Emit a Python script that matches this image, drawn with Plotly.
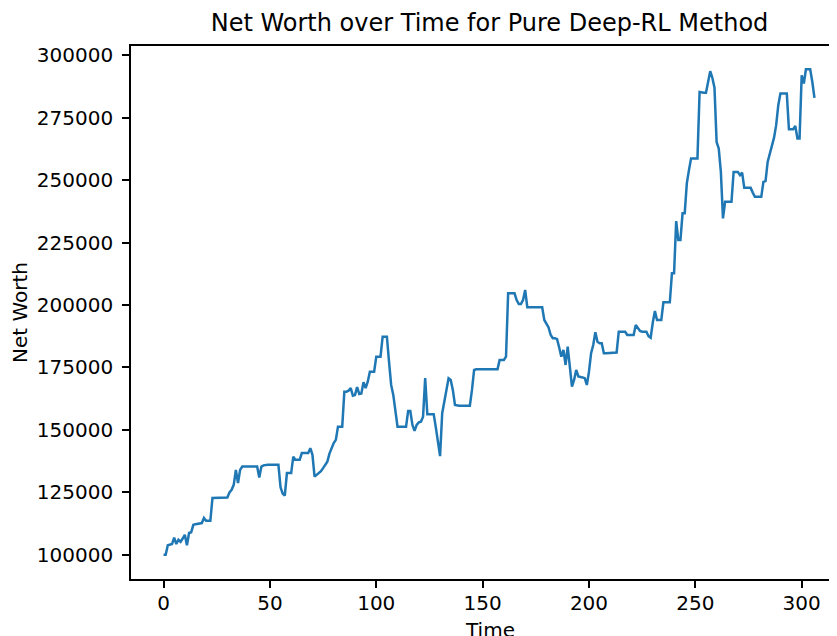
import plotly.graph_objects as go

# ---- data ----
time_steps = list(range(307))
net_worth = [
    100000, 100000, 103800, 104000, 104300, 106900, 104300, 106000, 105200, 106500,
    108000, 103800, 108700, 109000, 112000, 112200, 112400, 112700, 112700, 114700,
    113600, 113600, 113600, 122700, 122700, 122700, 122700, 122700, 122700, 122700,
    122900, 125000, 126000, 128000, 134000, 128700, 134000, 135300, 135300, 135300,
    135300, 135300, 135300, 135300, 135300, 130900, 135300, 135800, 136000, 136000,
    136000, 136000, 136000, 136000, 136000, 127000, 124500, 123700, 132700, 132700,
    132700, 139300, 138000, 138000, 138000, 140700, 140700, 140700, 140700, 142700,
    140000, 131300, 132000, 132700, 133500, 134700, 136000, 137300, 140500, 142700,
    144700, 146000, 151300, 151300, 151300, 165300, 165300, 165700, 166700, 163700,
    164000, 167100, 164400, 164600, 169100, 166700, 169300, 173300, 173300, 173300,
    179300, 179300, 179300, 187300, 187300, 187300, 177300, 168000, 164000, 157000,
    151300, 151300, 151300, 151300, 151300, 157600, 157600, 152000, 149600, 152000,
    153000, 153300, 155300, 170700, 156300, 156300, 156300, 156300, 151000, 146000,
    139500, 156700, 162000, 166700, 170700, 170000, 166000, 160000, 159700, 159700,
    159700, 159700, 159700, 159700, 159700, 166000, 174000, 174300, 174300, 174300,
    174300, 174300, 174300, 174300, 174300, 174300, 174300, 174300, 178000, 178000,
    178000, 179300, 204700, 204700, 204700, 204700, 202000, 200400, 200400, 202000,
    206000, 199100, 199100, 199100, 199100, 199100, 199100, 199100, 199100, 194000,
    192700, 191000, 188000, 186700, 186700, 186300, 183000, 179300, 182000, 176000,
    183300, 174000, 167300, 170000, 174000, 171400, 171300, 171000, 170700, 168000,
    173300, 180700, 184000, 189100, 185300, 184700, 184700, 180700, 180700, 180700,
    180700, 180700, 180700, 181000, 189300, 189300, 189300, 189300, 188000, 188000,
    188000, 188000, 192000, 190500, 189600, 189300, 189300, 189300, 187500, 186900,
    193000, 197600, 194000, 194000, 194000, 201100, 201100, 201100, 201100, 212700,
    212700, 233600, 226000, 226000, 236700, 236700, 248700, 254000, 258700, 258700,
    258700, 258700, 285300, 285000, 285000, 285000, 289300, 293600, 291000, 287000,
    265300, 262700, 253300, 234700, 241300, 241300, 241300, 241300, 253300, 253300,
    253300, 252000, 253000, 246900, 246900, 246900, 246900, 245000, 243300, 243300,
    243300, 243300, 249300, 249600, 257300, 260700, 263000, 267000, 272000, 280000,
    284700, 284700, 284700, 284700, 270400, 270400, 270400, 271700, 266700, 266700,
    292000, 288700, 294400, 294400, 294400, 289300, 282900,
]
x_ticks = [0, 50, 100, 150, 200, 250, 300]
y_ticks = [100000, 125000, 150000, 175000, 200000, 225000, 250000, 275000, 300000]

title_text = "Net Worth over Time for Pure Deep-RL Method"
x_label = "Time"
y_label = "Net Worth"

FONT = "DejaVu Sans"

fig = go.Figure()
fig.add_trace(go.Scatter(
    x=time_steps, y=net_worth, mode="lines",
    line=dict(color="#1f77b4", width=2.5),
    showlegend=False,
))

# the page body adds an 8px offset; the figure is sized to fill the rest of the window
fig.update_layout(
    width=829, height=628,
    margin=dict(l=123, r=0, t=38, b=57),
    paper_bgcolor="white", plot_bgcolor="white",
    font=dict(family=FONT, size=20, color="black"),
    title=dict(text=title_text, font=dict(family=FONT, size=24, color="black"),
               x=0.5078, xref="paper", xanchor="center",
               y=1 - 15 / 628, yref="container", yanchor="middle"),
)
# x-axis label placed just like the reference (partly below the visible edge)
fig.add_annotation(
    text=x_label, xref="paper", yref="paper", x=0.5078, y=-51 / 533,
    xanchor="center", yanchor="middle", showarrow=False,
    font=dict(family=FONT, size=20, color="black"),
)
fig.update_xaxes(
    range=[-15.3, 316.6], tickvals=x_ticks, ticktext=[str(v) for v in x_ticks],
    showgrid=False, zeroline=False, automargin=False,
    showline=True, linecolor="black", linewidth=1.6, mirror=True,
    ticks="outside", ticklen=7, tickwidth=1.6, tickcolor="black",
    ticklabelstandoff=-2,
    tickfont=dict(family=FONT, size=20, color="black"),
)
fig.update_yaxes(
    range=[90300, 303700], tickvals=y_ticks, ticktext=[str(v) for v in y_ticks],
    showgrid=False, zeroline=False, automargin=False,
    showline=True, linecolor="black", linewidth=1.6, mirror=False,
    ticks="outside", ticklen=7, tickwidth=1.6, tickcolor="black",
    ticklabelstandoff=5,
    tickfont=dict(family=FONT, size=20, color="black"),
    title=dict(text=y_label, font=dict(family=FONT, size=20, color="black"), standoff=8),
)

fig.write_html("out.html")
